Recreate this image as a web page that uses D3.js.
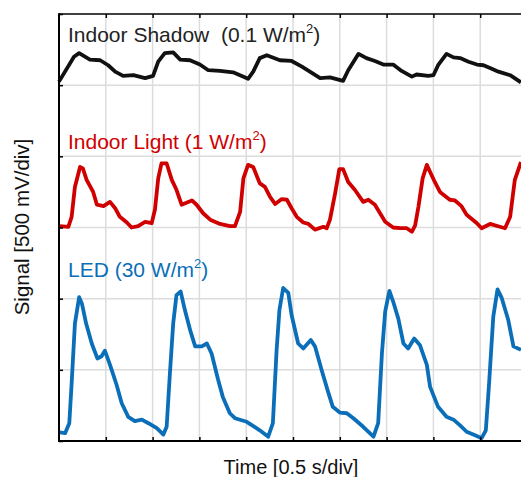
<!DOCTYPE html>
<html>
<head>
<meta charset="utf-8">
<script src="https://cdn.jsdelivr.net/npm/d3@7"></script>
<style>
  body { margin: 0; background: #fff; }
  svg { display: block; font-family: "Liberation Sans", Arial, sans-serif; }
</style>
</head>
<body>
<svg id="chart" width="521" height="477"></svg>
<script>
// time in divisions (0.5 s/div), signal in divisions (500 mV/div), traces stacked with offsets
const shadow_t = [0, 0.32, 0.43, 0.66, 0.88, 1.05, 1.20, 1.37, 1.59, 1.84, 2.01, 2.12, 2.26, 2.44, 2.59, 2.80, 3.01, 3.19, 3.44, 3.72, 4.04, 4.15, 4.29, 4.44, 4.72, 4.97, 5.19, 5.36, 5.58, 5.79, 6.07, 6.18, 6.40, 6.57, 6.75, 6.93, 7.14, 7.32, 7.54, 7.64, 7.89, 8.00, 8.10, 8.28, 8.43, 8.57, 8.75, 8.93, 9.07, 9.21, 9.39, 9.64, 9.87]
const shadow_v = [5.05, 5.40, 5.45, 5.36, 5.35, 5.28, 5.19, 5.13, 5.14, 5.10, 5.13, 5.33, 5.45, 5.46, 5.36, 5.35, 5.29, 5.21, 5.20, 5.18, 5.09, 5.19, 5.38, 5.42, 5.35, 5.34, 5.26, 5.19, 5.10, 5.11, 5.06, 5.21, 5.44, 5.38, 5.34, 5.29, 5.29, 5.20, 5.12, 5.15, 5.13, 5.14, 5.28, 5.44, 5.39, 5.38, 5.33, 5.29, 5.28, 5.24, 5.19, 5.14, 5.04]

const light_t = [0.02, 0.20, 0.27, 0.34, 0.45, 0.51, 0.59, 0.73, 0.81, 0.95, 1.09, 1.20, 1.30, 1.45, 1.55, 1.69, 1.84, 1.98, 2.05, 2.12, 2.19, 2.30, 2.41, 2.51, 2.62, 2.84, 2.94, 3.08, 3.23, 3.44, 3.65, 3.76, 3.87, 3.94, 4.04, 4.15, 4.29, 4.40, 4.51, 4.62, 4.76, 4.87, 4.97, 5.08, 5.22, 5.33, 5.47, 5.65, 5.72, 5.79, 5.90, 5.99, 6.07, 6.18, 6.32, 6.50, 6.61, 6.75, 6.86, 6.97, 7.14, 7.29, 7.43, 7.54, 7.61, 7.68, 7.77, 7.86, 7.93, 8.03, 8.14, 8.35, 8.46, 8.60, 8.71, 8.93, 9.03, 9.21, 9.42, 9.53, 9.64, 9.74, 9.87]
const light_v = [3.02, 3.01, 3.15, 3.57, 3.85, 3.83, 3.67, 3.50, 3.32, 3.30, 3.36, 3.27, 3.15, 3.07, 3.00, 3.02, 3.08, 3.06, 3.25, 3.69, 3.90, 3.90, 3.67, 3.53, 3.32, 3.38, 3.32, 3.20, 3.11, 3.05, 3.02, 3.02, 3.22, 3.69, 3.88, 3.85, 3.62, 3.57, 3.43, 3.33, 3.40, 3.39, 3.27, 3.15, 3.07, 3.05, 2.97, 3.01, 2.99, 3.11, 3.48, 3.82, 3.82, 3.64, 3.53, 3.36, 3.39, 3.32, 3.20, 3.08, 3.00, 2.99, 2.99, 2.94, 3.03, 3.29, 3.69, 3.88, 3.78, 3.64, 3.50, 3.39, 3.38, 3.30, 3.18, 3.06, 2.99, 3.05, 3.01, 2.99, 3.15, 3.67, 3.92, 3.81]

const led_t = [0.02, 0.13, 0.22, 0.27, 0.34, 0.43, 0.49, 0.58, 0.70, 0.82, 0.91, 0.98, 1.09, 1.23, 1.34, 1.48, 1.62, 1.77, 1.91, 2.09, 2.23, 2.30, 2.37, 2.44, 2.51, 2.60, 2.69, 2.81, 2.91, 3.05, 3.16, 3.26, 3.40, 3.50, 3.65, 3.76, 4.01, 4.22, 4.29, 4.47, 4.57, 4.65, 4.71, 4.79, 4.90, 4.97, 5.11, 5.22, 5.38, 5.47, 5.61, 5.75, 5.85, 6.00, 6.15, 6.29, 6.50, 6.72, 6.82, 6.90, 6.97, 7.06, 7.14, 7.25, 7.36, 7.46, 7.59, 7.71, 7.86, 7.93, 8.10, 8.28, 8.43, 8.57, 8.71, 8.89, 9.03, 9.12, 9.19, 9.28, 9.37, 9.46, 9.60, 9.71, 9.87]
const led_v = [0.12, 0.11, 0.25, 0.81, 1.65, 2.02, 1.93, 1.65, 1.37, 1.16, 1.19, 1.27, 1.07, 0.79, 0.53, 0.34, 0.28, 0.30, 0.25, 0.18, 0.09, 0.20, 0.95, 1.65, 2.05, 2.10, 1.84, 1.54, 1.33, 1.33, 1.37, 1.23, 0.86, 0.62, 0.39, 0.32, 0.27, 0.18, 0.15, 0.06, 0.25, 1.28, 1.84, 2.15, 2.08, 1.77, 1.37, 1.30, 1.42, 1.33, 1.00, 0.69, 0.48, 0.40, 0.39, 0.32, 0.20, 0.06, 0.25, 1.23, 1.82, 2.11, 1.96, 1.72, 1.37, 1.30, 1.44, 1.35, 1.07, 0.76, 0.48, 0.34, 0.30, 0.22, 0.13, 0.08, 0.04, 0.15, 0.81, 1.75, 2.13, 2.01, 1.70, 1.33, 1.28]

const series_names = ["Indoor Shadow  (0.1 W/m", "Indoor Light (1 W/m", "LED (30 W/m"]
const series_colors = ["#111111", "#d00000", "#0a6fb8"]
const label_level = [5.6, 4.1, 2.3]
const x_ticks = d3.range(0, 11)
const y_ticks = d3.range(0, 7)

const svg = d3.select("#chart")
const mLeft = 59, mTop = 14, mBottom = 441

const x = d3.scaleLinear().domain([0, 10]).range([mLeft, 527])
const y = d3.scaleLinear().domain([0, 6]).range([mBottom, mTop])

// grid
svg.append("g")
  .selectAll("line")
  .data(x_ticks.slice(1))
  .join("line")
  .attr("x1", d => x(d)).attr("x2", d => x(d))
  .attr("y1", mTop).attr("y2", mBottom)
  .attr("stroke", "#dcdcdc").attr("stroke-width", 1.5)

svg.append("g")
  .selectAll("line")
  .data(y_ticks.slice(1, -1))
  .join("line")
  .attr("x1", mLeft).attr("x2", 521)
  .attr("y1", d => y(d)).attr("y2", d => y(d))
  .attr("stroke", "#dcdcdc").attr("stroke-width", 1.5)

// traces
const line = d3.line()
  .x(d => x(d[0]))
  .y(d => y(d[1]))

const traces = [
  d3.zip(shadow_t, shadow_v),
  d3.zip(light_t, light_v),
  d3.zip(led_t, led_v)
]

svg.append("g")
  .selectAll("path")
  .data(traces)
  .join("path")
  .attr("d", line)
  .attr("fill", "none")
  .attr("stroke", (d, i) => series_colors[i])
  .attr("stroke-width", 3.8)
  .attr("stroke-linejoin", "round")

// axes (ticks point inward)
svg.append("g")
  .attr("transform", `translate(0,${mBottom})`)
  .call(d3.axisTop(x).tickValues(x_ticks.slice(1)).tickSize(4).tickFormat(""))
  .call(g => g.select(".domain").remove())
  .selectAll("line").attr("stroke-width", 1.5)

svg.append("g")
  .attr("transform", `translate(0,${mTop})`)
  .call(d3.axisBottom(x).tickValues(x_ticks.slice(1)).tickSize(4).tickFormat(""))
  .call(g => g.select(".domain").remove())
  .selectAll("line").attr("stroke-width", 1.5)

svg.append("g")
  .attr("transform", `translate(${mLeft},0)`)
  .call(d3.axisRight(y).tickValues(y_ticks).tickSize(4).tickFormat(""))
  .call(g => g.select(".domain").remove())
  .selectAll("line").attr("stroke-width", 1.5)

svg.append("line")
  .attr("x1", mLeft).attr("x2", 521).attr("y1", mTop).attr("y2", mTop)
  .attr("stroke", "#000").attr("stroke-width", 1.5)
svg.append("line")
  .attr("x1", mLeft).attr("x2", 521).attr("y1", mBottom).attr("y2", mBottom)
  .attr("stroke", "#000").attr("stroke-width", 2.2)
svg.append("line")
  .attr("x1", mLeft).attr("x2", mLeft).attr("y1", mTop - 0.75).attr("y2", mBottom + 1)
  .attr("stroke", "#000").attr("stroke-width", 2)

// series labels
const lab = svg.append("g")
  .selectAll("text")
  .data(series_names)
  .join("text")
  .attr("x", 68)
  .attr("y", (d, i) => y(label_level[i]))
  .attr("fill", (d, i) => i === 0 ? "#222" : series_colors[i])
  .attr("font-size", 21)
  .style("white-space", "pre")
lab.append("tspan").text(d => d)
lab.append("tspan").attr("font-size", 13).attr("dy", -9).text("2")
lab.append("tspan").attr("dy", 9).text(")")

// axis titles
svg.append("text")
  .attr("x", 291).attr("y", 474)
  .attr("text-anchor", "middle")
  .attr("font-size", 20)
  .attr("fill", "#111")
  .text("Time [0.5 s/div]")

svg.append("text")
  .attr("transform", "translate(29,227) rotate(-90)")
  .attr("text-anchor", "middle")
  .attr("font-size", 20.5)
  .attr("fill", "#111")
  .text("Signal [500 mV/div]")
</script>
</body>
</html>
